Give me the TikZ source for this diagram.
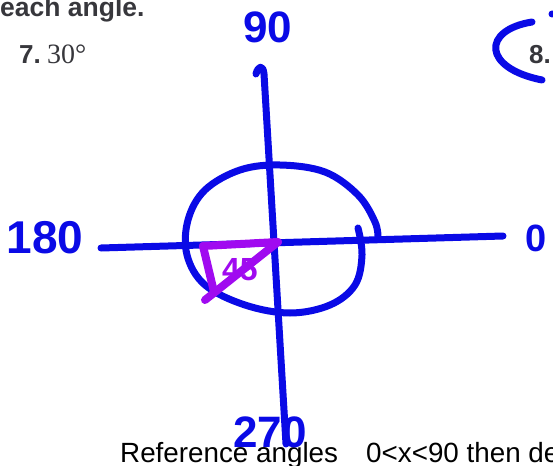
\documentclass[tikz,border=0pt]{standalone}
\usepackage{fontspec}
\setmainfont{Liberation Serif}
\setsansfont{Liberation Sans}
\definecolor{penblue}{RGB}{10,10,230}
\definecolor{penpurple}{RGB}{160,10,240}
\definecolor{printgray}{RGB}{55,55,60}
\tikzset{
  bluepen/.style={draw=penblue, line width=7pt, line cap=round, line join=round},
  purplepen/.style={draw=penpurple, line width=8pt, line cap=round, line join=round},
  handlab/.style={text=penblue, inner sep=0pt},
  printed/.style={text=printgray, inner sep=0pt, anchor=base west},
}
\begin{document}
\begin{tikzpicture}[x=1pt,y=-1pt]
\useasboundingbox (0,0) rectangle (553,465);
\clip (0,0) rectangle (553,465);
\fill[white] (0,0) rectangle (553,465);
% printed text
\node[printed, font=\sffamily\bfseries\fontsize{26.5}{26.5}\selectfont] (head) at (0,17) {each angle.};
\node[printed, font=\sffamily\bfseries\fontsize{26}{26}\selectfont] (q7) at (19,64) {7.};
\node[printed, font=\fontsize{28}{28}\selectfont] (q7a) at (47,64) {30°};
\node[printed, font=\sffamily\bfseries\fontsize{26}{26}\selectfont] (q8) at (529,64) {8.};
\node[printed, text=black, font=\sffamily\fontsize{27.8}{27.8}\selectfont] (ref) at (120,462) {Reference angles};
\node[printed, text=black, font=\sffamily\fontsize{27.8}{27.8}\selectfont] (cond) at (366,462) {0<x<90 then de};
% circle
\draw[bluepen] plot[smooth, tension=0.6] coordinates {(358,228) (362,255) (355,285) (330,305) (290,313) (245,305) (205,285) (187,255) (188,220) (205,190) (240,170) (280,165) (325,172) (358,195) (375,222) (378,238)};
% axes
\draw[bluepen] (256,74) .. controls (258,66) and (263,64) .. (264,74) -- (286,444);
\draw[bluepen] (101,248) -- (503,236);
% bracket near 8.
\draw[bluepen] (532,22) .. controls (482,30) and (482,68) .. (542,80);
\fill[penblue] (552,14) circle (3.5);
% purple triangle
\draw[purplepen] (203,246) -- (278,242) -- (205,300);
\draw[purplepen] (203,246) -- (214,292);
\node[text=penpurple, font=\sffamily\bfseries\fontsize{32}{32}\selectfont, inner sep=0pt] (ang) at (240,270) {45};
% handwritten labels
\node[handlab, font=\sffamily\bfseries\fontsize{44}{44}\selectfont] (n90) at (268,27) {90};
\node[handlab, font=\sffamily\bfseries\fontsize{46}{46}\selectfont] (n180) at (45,238) {180};
\node[handlab, font=\sffamily\bfseries\fontsize{38}{38}\selectfont] (n0) at (536,238) {0};
\node[handlab, font=\sffamily\bfseries\fontsize{44}{44}\selectfont] (n270) at (270,432) {270};
\end{tikzpicture}
\end{document}
